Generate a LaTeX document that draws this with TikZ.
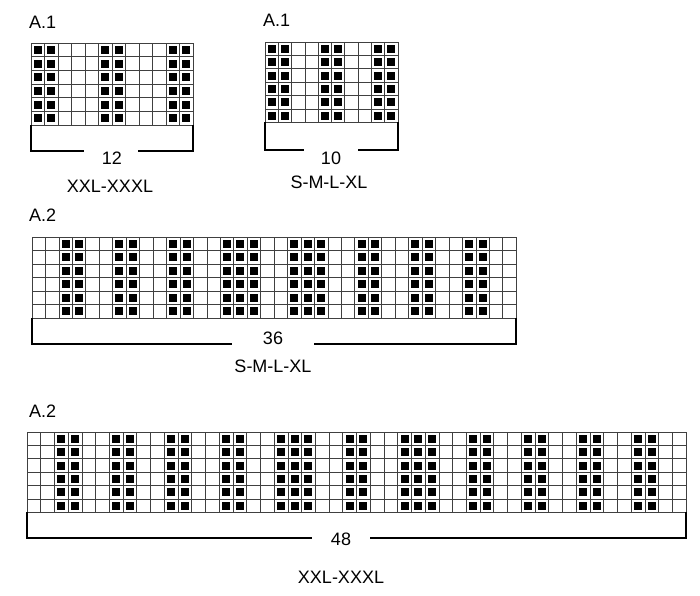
\documentclass[tikz,border=0pt]{standalone}
\usepackage{fontspec}
\setmainfont{Liberation Sans}
\newcommand\knitchart[7]{%
  \foreach \i in {0,...,#3} {\draw[gridline] ({#1+\i*#4},#2) -- ({#1+\i*#4},{#2+6*#5});}
  \foreach \j in {0,...,6} {\draw[gridline] (#1,{#2+\j*#5}) -- ({#1+#3*#4},{#2+\j*#5});}
  \foreach \c in {#6} {\foreach \r in {1,...,6}
    {\fill ({#1+\c*#4-#4/2-4},{#2+\r*#5-#5/2-4}) rectangle ++(8,8);}}
}
\begin{document}
\begin{tikzpicture}[x=1pt,y=-1pt,
  gridline/.style={line width=0.7pt,black!75},
  bracket/.style={line width=1.4pt},
  lbl/.style={font=\fontsize{18}{18}\selectfont,inner sep=0pt},
  num/.style={font=\fontsize{18}{18}\selectfont,inner sep=0pt}]
\useasboundingbox (0,0) rectangle (700,595);
% A.1 XXL
\node[lbl,anchor=west] (t1) at (29,22) {A.1};
\knitchart{31}{43}{12}{13.5}{13.7}{1,2,6,7,11,12}{}
\draw[bracket] (31,125) -- (31,151) -- (84,151);
\draw[bracket] (138,151) -- (193,151) -- (193,125);
\node[num] (n1) at (112,158) {12};
\node[lbl] (s1) at (110,186) {XXL-XXXL};
% A.1 S
\node[lbl,anchor=west] (t2) at (263,20) {A.1};
\knitchart{265}{42}{10}{13.3}{13.4}{1,2,5,6,9,10}{}
\draw[bracket] (265,122) -- (265,150) -- (304,150);
\draw[bracket] (358,150) -- (398,150) -- (398,122);
\node[num] (n2) at (331,158) {10};
\node[lbl] (s2) at (329,182) {S-M-L-XL};
% A.2 36
\node[lbl,anchor=west] (t3) at (29,215) {A.2};
\knitchart{32}{237}{36}{13.45}{13.5}{3,4,7,8,11,12,15,16,17,20,21,22,25,26,29,30,33,34}{}
\draw[bracket] (32,318) -- (32,344) -- (232,344);
\draw[bracket] (314,344) -- (516,344) -- (516,318);
\node[num] (n3) at (273,338) {36};
\node[lbl] (s3) at (273,366) {S-M-L-XL};
% A.2 48
\node[lbl,anchor=west] (t4) at (29,411) {A.2};
\knitchart{27}{432}{48}{13.73}{13.4}{3,4,7,8,11,12,15,16,19,20,21,24,25,28,29,30,33,34,37,38,41,42,45,46}{}
\draw[bracket] (27,512) -- (27,538) -- (312,538);
\draw[bracket] (370,538) -- (686,538) -- (686,512);
\node[num] (n4) at (341,539) {48};
\node[lbl] (s4) at (341,577) {XXL-XXXL};
\end{tikzpicture}
\end{document}
